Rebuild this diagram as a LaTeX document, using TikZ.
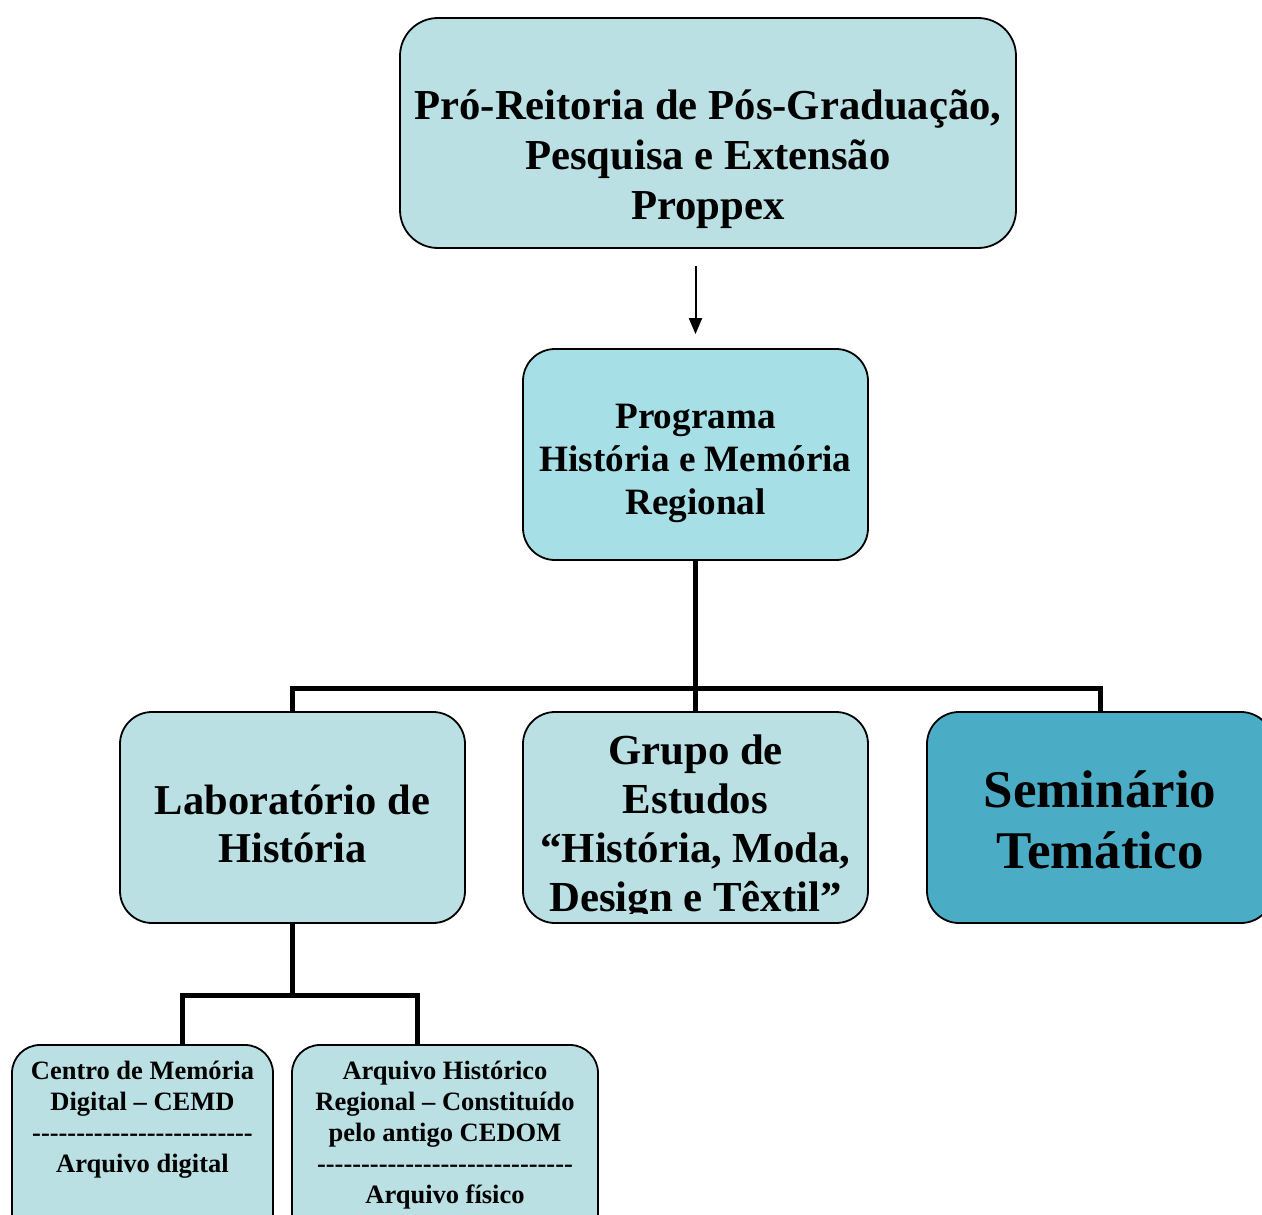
\documentclass[tikz,border=0pt]{standalone}
\usepackage{fontspec}
\setmainfont{Liberation Serif}
\usetikzlibrary{arrows.meta}
\definecolor{paleteal}{HTML}{BAE0E3}
\definecolor{midteal}{HTML}{A6DFE6}
\definecolor{deepteal}{HTML}{4BACC6}
\newcommand{\dashrow}[1]{\foreach \k in {1,...,#1}{\mbox{-}}}
\begin{document}
\begin{tikzpicture}[x=1pt,y=-1pt,
    box/.style={draw=black, line width=1.8pt, fill=paleteal, rounded corners=32pt, inner sep=0pt},
    bigbox/.style={box, minimum width=345pt, minimum height=211pt},
    smallbox/.style={box, rounded corners=28pt, minimum height=200pt},
    txt/.style={align=center, inner sep=0pt, font=\bfseries},
    link/.style={line width=5pt},
    arr/.style={line width=2pt, -{Triangle[length=16pt,width=13pt]}, shorten <=17pt, shorten >=14pt}]
                \clip (0,0) rectangle (1262,1215);
                \node[box, rounded corners=38pt, minimum width=616pt, minimum height=230pt] (prop) at (708,133) {};
                \node[txt, font=\bfseries\fontsize{42.7}{50}\selectfont] (proptxt) at (708,159) {Pró-Reitoria de Pós-Graduação,\\Pesquisa e Extensão\\Proppex};
                \node[bigbox, fill=midteal] (prog) at (695.5,454.5) {};
                \node[txt, font=\bfseries\fontsize{37.2}{43}\selectfont] (progtxt) at (695.5,463) {Programa\\História e Memória\\Regional};
                \node[bigbox] (lab) at (292.5,817.5) {};
                \node[txt, font=\bfseries\fontsize{42.5}{48}\selectfont] (labtxt) at (292.5,824) {Laboratório de\\História};
                \node[bigbox] (grupo) at (695.5,817.5) {};
                \begin{scope}
                    \clip (grupo.north west) rectangle ([yshift=10pt]grupo.south east);
                    \node[txt, font=\bfseries\fontsize{42.8}{49}\selectfont] (grupotxt) at (695.5,827.5) {Grupo de\\Estudos\\“História, Moda,\\Design e Têxtil”};
                \end{scope}
                \node[bigbox, fill=deepteal, minimum width=346pt] (sem) at (1100,817.5) {};
                \node[txt, font=\bfseries\fontsize{53}{61}\selectfont] (semtxt) at (1100,820) {Seminário\\Temático};
                \node[smallbox, minimum width=261pt] (cemd) at (142.5,1145) {};
                \node[txt, font=\bfseries\fontsize{26.5}{31}\selectfont] (cemdtxt) at (142.5,1119.5) {Centro de Memória\\Digital – CEMD\\\dashrow{25}\\Arquivo digital};
                \node[smallbox, minimum width=306pt] (arq) at (445,1145) {};
                \node[txt, font=\bfseries\fontsize{26.5}{31}\selectfont] (arqtxt) at (445,1135) {Arquivo Histórico\\Regional – Constituído\\pelo antigo CEDOM\\\dashrow{29}\\Arquivo físico};
                \draw[arr] (prop.south -| prog.north) -- (prog.north);
                \draw[link] (prog.south) -- (grupo.north);
                \draw[link] (prog.south) -- ++(0,128) -| (lab.north);
                \draw[link] (prog.south) -- ++(0,128) -| (sem.north);
                \draw[link] (lab.south) -- ++(0,72) -| ([xshift=40pt]cemd.north);
                \draw[link] (lab.south) -- ++(0,72) -| ([xshift=-28pt]arq.north);
            \end{tikzpicture}
\end{document}
